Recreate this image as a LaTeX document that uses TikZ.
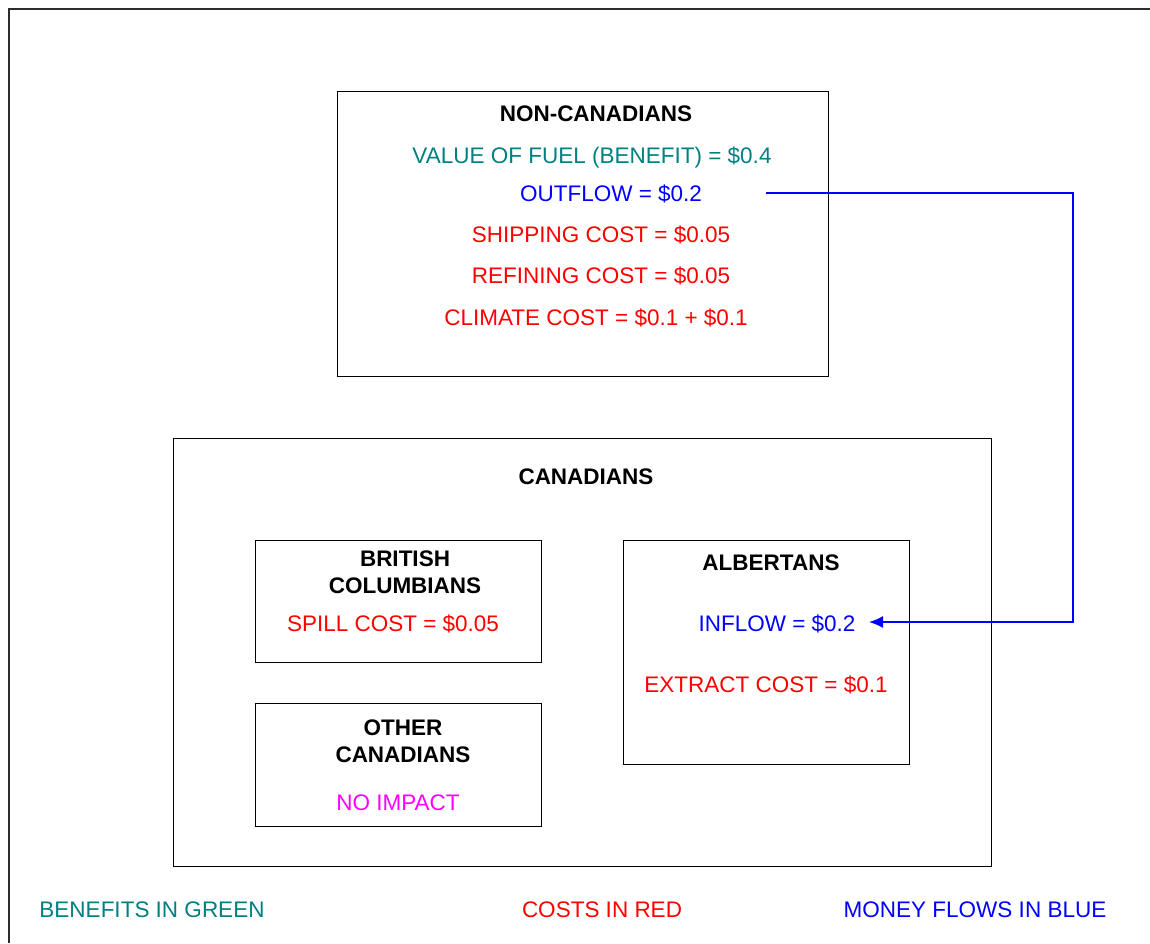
\documentclass[tikz,border=0pt]{standalone}
\usepackage{fontspec}
\setmainfont{Liberation Sans}
\usetikzlibrary{arrows.meta}
\definecolor{benefit}{RGB}{0,128,128}
\definecolor{cost}{RGB}{255,0,0}
\definecolor{flowc}{RGB}{0,0,255}
\definecolor{noimp}{RGB}{255,0,255}
\definecolor{framec}{RGB}{45,45,45}
\tikzset{
  box/.style={draw=black, line width=1pt},
  txt/.style={inner sep=0pt, text height=16.1pt, text depth=0pt,
    font=\fontsize{22.5}{27}\selectfont},
  head/.style={txt, font=\fontsize{22.5}{27}\selectfont\bfseries},
  flow/.style={draw=flowc, line width=1.4pt, -{Latex[length=14pt,width=12pt]}},
}
\begin{document}
\begin{tikzpicture}[x=1pt,y=-1pt]
\useasboundingbox (0,0) rectangle (1150,943);
% outer frame (extends beyond picture)
\draw[framec, line width=1.6pt] (9,943) -- (9,9) -- (1150,9);

% boxes
\draw[box] (337,91) rectangle (828,376);
\draw[box] (173,438) rectangle (991,866);
\draw[box] (255,540) rectangle (541,662);
\draw[box] (255,703) rectangle (541,826);
\draw[box] (623,540) rectangle (909,764);

% non-canadians
\node[head] (nch) at (596,113) {NON-CANADIANS};
\node[txt, text=benefit] (val) at (592,155) {VALUE OF FUEL (BENEFIT) = \$0.4};
\node[txt, text=flowc] (outflow) at (611,193) {OUTFLOW = \$0.2};
\node[txt, text=cost] (ship) at (601,234) {SHIPPING COST = \$0.05};
\node[txt, text=cost] (refine) at (601,275) {REFINING COST = \$0.05};
\node[txt, text=cost] (climate) at (596,317) {CLIMATE COST = \$0.1 + \$0.1};

% canadians
\node[head] (cah) at (586,476) {CANADIANS};
\node[head] (bc1) at (405,558) {BRITISH};
\node[head] (bc2) at (405,585) {COLUMBIANS};
\node[txt, text=cost] (spill) at (393,623) {SPILL COST = \$0.05};
\node[head] (oc1) at (403,727) {OTHER};
\node[head] (oc2) at (403,754) {CANADIANS};
\node[txt, text=noimp] (noimpact) at (398,802) {NO IMPACT};
\node[head] (alb) at (771,562) {ALBERTANS};
\node[txt, text=flowc] (inflow) at (777,623) {INFLOW = \$0.2};
\node[txt, text=cost] (extract) at (766,684) {EXTRACT COST = \$0.1};

% legend
\node[txt, text=benefit] (lg1) at (152,909) {BENEFITS IN GREEN};
\node[txt, text=cost] (lg2) at (602,909) {COSTS IN RED};
\node[txt, text=flowc] (lg3) at (975,909) {MONEY FLOWS IN BLUE};

% money flow connector
\coordinate (fstart) at (766,193);
\coordinate (fc1) at (1073,193);
\coordinate (fc2) at (1073,622);
\coordinate (fend) at (869,622);
\draw[flow] (fstart) -- (fc1) -- (fc2) -- (fend);
\end{tikzpicture}
\end{document}
